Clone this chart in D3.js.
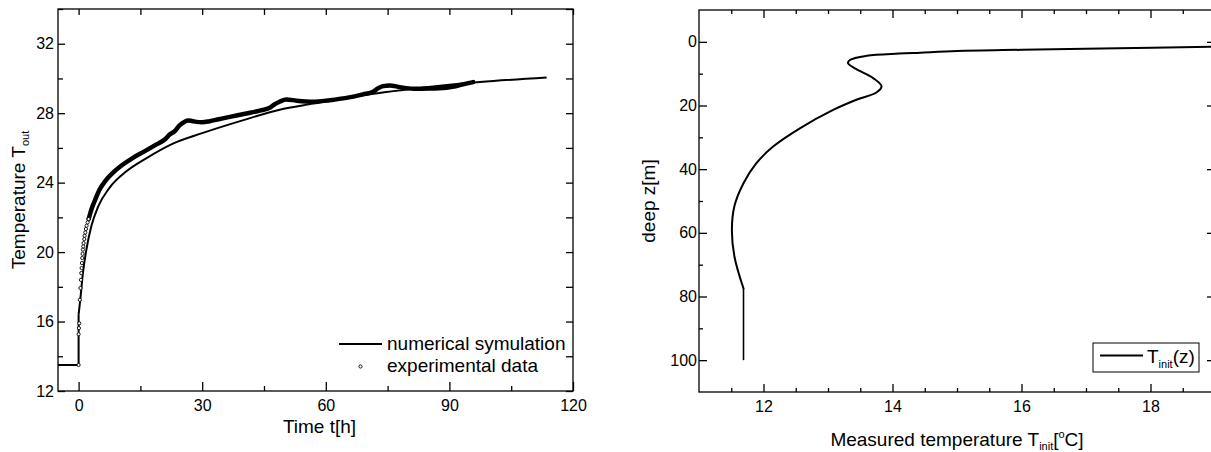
<!DOCTYPE html>
<html lang="en">
<head>
<meta charset="UTF-8">
<title>Temperature</title>
<style>
  body { margin: 0; background: #fff; }
  svg { display: block; font-family: "Liberation Sans", Arial, sans-serif; }
  .axis path { display: none; }
  .axis line { stroke: #000; stroke-width: 1.3; }
  .axis text { font-size: 16px; fill: #000; font-family: "Liberation Sans", Arial, sans-serif; }
  .title { font-size: 19px; fill: #000; }
</style>
</head>
<body>
<svg id="chart"></svg>
<script src="https://cdn.jsdelivr.net/npm/d3@7"></script>
<script>
// left panel: numerical simulation T_out(t)
var simTime = [-5, 0, 0, 0.4, 1.05, 1.86, 3.1, 4.7, 7.5, 11.6, 16.4, 22.9, 30, 40, 48.8, 57, 65, 81.2, 97.4, 113.6];
var simTemp = [13.5, 13.5, 16.4, 17.25, 18.8, 20.1, 21.5, 22.6, 23.7, 24.65, 25.4, 26.25, 26.85, 27.6, 28.2, 28.55, 28.89, 29.41, 29.79, 30.06];

// left panel: experimental data
var expTime = [0, 0, 0.08, 0.16, 0.3, 0.45, 0.57, 0.65, 0.73, 0.81, 0.89, 0.97, 1.05, 1.13, 1.21, 1.38, 1.46, 1.62, 1.78, 1.94, 2.19, 2.43, 2.67,
  3.1, 4, 5.1, 6.5, 8.3, 10.5, 13.2, 16, 18.9, 21, 22.1, 23.3, 24.5, 25.3, 26.5, 27.5, 28.6, 30, 31.8, 34, 37, 40.7, 44, 46.4, 47.5, 48.8,
  50.4, 52.9, 56.9, 61, 65, 69, 71.5, 72.8, 73.9, 75.5, 78, 81.2, 85, 89.3, 91.5, 93.3, 95.8];
var expTemp = [13.5, 15.27, 15.62, 15.9, 17.25, 17.93, 18.4, 18.79, 19.08, 19.37, 19.66, 19.9, 20.14, 20.33, 20.52, 20.75, 20.94, 21.13, 21.33, 21.52, 21.71, 21.9, 22.1,
  22.45, 23.0, 23.6, 24.1, 24.56, 25.0, 25.43, 25.8, 26.2, 26.5, 26.77, 26.96, 27.3, 27.44, 27.58, 27.55, 27.5, 27.48, 27.54, 27.65, 27.8, 27.98, 28.15, 28.31, 28.5, 28.66,
  28.79, 28.72, 28.66, 28.75, 28.88, 29.08, 29.24, 29.45, 29.56, 29.6, 29.5, 29.41, 29.42, 29.47, 29.55, 29.66, 29.79];

// right panel: initial temperature profile T_init(z)
var depth = [1.3, 1.5, 2.0, 2.5, 2.9, 3.4, 3.7, 4.4, 5.7, 6.7, 8.6, 11.4, 14.0, 15.9, 18.2, 21.4, 27.1, 32.9, 38.1, 44.4, 51.5, 59.1, 67.5, 77.5, 100];
var tInit = [19.6, 19, 17.5, 16, 15, 14.43, 14.1, 13.6, 13.34, 13.31, 13.44, 13.7, 13.83, 13.75, 13.44, 13.08, 12.57, 12.15, 11.89, 11.69, 11.55, 11.51, 11.55, 11.69, 11.69];

// tick values
var timeTicks = [0, 30, 60, 90, 120];
var timeMinor = [15, 45, 75, 105];
var tempTicks = [12, 16, 20, 24, 28, 32];
var tempMinor = [14, 18, 22, 26, 30, 34];
var tiTicks = [12, 14, 16, 18];
var tiMinor = [11.5, 12.5, 13, 13.5, 14.5, 15, 15.5, 16.5, 17, 17.5, 18.5];
var depthTicks = [0, 20, 40, 60, 80, 100];
var depthMinor = [10, 30, 50, 70, 90];

var W = 1211, H = 452;
var svg = d3.select("#chart").attr("width", W).attr("height", H);

function addAxis(g, gen, tx, ty) {
  g.append("g").attr("class", "axis")
    .attr("transform", "translate(" + tx + "," + ty + ")")
    .call(gen);
}

// ---------- left panel ----------
var A = {left: 58, right: 573, top: 9, bottom: 391};
var xA = d3.scaleLinear().domain([-5, 120]).range([A.left, A.right]);
var yA = d3.scaleLinear().domain([12, 34]).range([A.bottom, A.top]);
var gA = svg.append("g");

gA.append("clipPath").attr("id", "clipA").append("rect")
  .attr("x", A.left).attr("y", A.top).attr("width", A.right - A.left).attr("height", A.bottom - A.top);

// step at t=0 is straight, the heating curve after it is smooth
var simIdx = d3.range(simTime.length);
var simStep = d3.line()
  .x(function(i) { return xA(simTime[i]); })
  .y(function(i) { return yA(simTemp[i]); });
var simCurve = d3.line()
  .x(function(i) { return xA(simTime[i]); })
  .y(function(i) { return yA(simTemp[i]); })
  .curve(d3.curveMonotoneX);
gA.append("path").datum(simIdx.slice(0, 3))
  .attr("clip-path", "url(#clipA)")
  .attr("d", simStep)
  .attr("fill", "none").attr("stroke", "#000").attr("stroke-width", 2);
gA.append("path").datum(simIdx.slice(2))
  .attr("d", simCurve)
  .attr("fill", "none").attr("stroke", "#000").attr("stroke-width", 2);

// dense part of the measurements shows up as a solid band
var denseIdx = d3.range(expTime.length).filter(function(i) { return expTime[i] >= 2.4; });
var sparseIdx = d3.range(expTime.length).filter(function(i) { return expTime[i] < 2.6; });
var expLine = d3.line()
  .x(function(i) { return xA(expTime[i]); })
  .y(function(i) { return yA(expTemp[i]); })
  .curve(d3.curveMonotoneX);
gA.append("path").datum(denseIdx)
  .attr("d", expLine)
  .attr("fill", "none").attr("stroke", "#000").attr("stroke-width", 4.5)
  .attr("stroke-linejoin", "round").attr("stroke-linecap", "round");

gA.selectAll("circle.exp").data(sparseIdx).enter().append("circle")
  .attr("class", "exp")
  .attr("cx", function(i) { return xA(expTime[i]); })
  .attr("cy", function(i) { return yA(expTemp[i]); })
  .attr("r", 1.6)
  .attr("fill", "#fff").attr("stroke", "#000").attr("stroke-width", 0.9);

gA.append("rect")
  .attr("x", A.left).attr("y", A.top).attr("width", A.right - A.left).attr("height", A.bottom - A.top)
  .attr("fill", "none").attr("stroke", "#000").attr("stroke-width", 1.3);

addAxis(gA, d3.axisBottom(xA).tickValues(timeTicks).tickSize(-9).tickPadding(9).tickSizeOuter(0), 0, A.bottom);
addAxis(gA, d3.axisBottom(xA).tickValues(timeMinor).tickSize(-5).tickFormat(""), 0, A.bottom);
addAxis(gA, d3.axisTop(xA).tickValues(timeTicks.concat(timeMinor)).tickSize(-6).tickFormat(""), 0, A.top);
addAxis(gA, d3.axisLeft(yA).tickValues(tempTicks).tickSize(-7).tickPadding(4), A.left, 0);
addAxis(gA, d3.axisLeft(yA).tickValues(tempMinor).tickSize(-5).tickFormat(""), A.left, 0);
addAxis(gA, d3.axisRight(yA).tickValues(tempTicks.concat(tempMinor)).tickSize(-7).tickFormat(""), A.right, 0);

gA.append("text").attr("class", "title")
  .attr("x", (A.left + A.right) / 2 + 4).attr("y", 433)
  .attr("text-anchor", "middle").text("Time t[h]");

var ytA = gA.append("text").attr("class", "title")
  .attr("transform", "translate(25," + ((A.top + A.bottom) / 2) + ") rotate(-90)")
  .attr("text-anchor", "middle");
ytA.append("tspan").text("Temperature T");
ytA.append("tspan").attr("dy", 4).style("font-size", "11px").text("out");

// legend
var legA = gA.append("g");
legA.append("line").attr("x1", 339).attr("x2", 382).attr("y1", 344).attr("y2", 344)
  .attr("stroke", "#000").attr("stroke-width", 2);
legA.append("text").attr("class", "title").attr("x", 387).attr("y", 350).text("numerical symulation");
legA.append("circle").attr("cx", 360.5).attr("cy", 366.5).attr("r", 1.6)
  .attr("fill", "#fff").attr("stroke", "#000").attr("stroke-width", 0.9);
legA.append("text").attr("class", "title").attr("x", 387).attr("y", 372).text("experimental data");

// ---------- right panel ----------
var B = {left: 699, right: 1215, top: 10, bottom: 392};
var xB = d3.scaleLinear().domain([11, 19]).range([B.left, B.right]);
var yB = d3.scaleLinear().domain([-10, 110]).range([B.top, B.bottom]);
var gB = svg.append("g");

gB.append("clipPath").attr("id", "clipB").append("rect")
  .attr("x", B.left).attr("y", B.top).attr("width", B.right - B.left).attr("height", B.bottom - B.top);

// smooth profile down to ~78 m, then a constant below
var nTi = depth.length;
var tiSmooth = d3.line()
  .x(function(i) { return xB(tInit[i]); })
  .y(function(i) { return yB(depth[i]); })
  .curve(d3.curveCatmullRom.alpha(0.5));
var tiStraight = d3.line()
  .x(function(i) { return xB(tInit[i]); })
  .y(function(i) { return yB(depth[i]); });
gB.append("path").datum(d3.range(nTi - 1))
  .attr("clip-path", "url(#clipB)")
  .attr("d", tiSmooth)
  .attr("fill", "none").attr("stroke", "#000").attr("stroke-width", 2)
  .attr("stroke-linecap", "round");
gB.append("path").datum([nTi - 2, nTi - 1])
  .attr("d", tiStraight)
  .attr("fill", "none").attr("stroke", "#000").attr("stroke-width", 1.6);

gB.append("rect")
  .attr("x", B.left).attr("y", B.top).attr("width", B.right - B.left).attr("height", B.bottom - B.top)
  .attr("fill", "none").attr("stroke", "#000").attr("stroke-width", 1.3);

addAxis(gB, d3.axisBottom(xB).tickValues(tiTicks).tickSize(-8).tickPadding(9), 0, B.bottom);
addAxis(gB, d3.axisBottom(xB).tickValues(tiMinor).tickSize(-4).tickFormat(""), 0, B.bottom);
addAxis(gB, d3.axisTop(xB).tickValues(tiTicks).tickSize(-8).tickFormat(""), 0, B.top);
addAxis(gB, d3.axisTop(xB).tickValues(tiMinor).tickSize(-4).tickFormat(""), 0, B.top);
addAxis(gB, d3.axisLeft(yB).tickValues(depthTicks).tickSize(-8).tickPadding(2), B.left, 0);
addAxis(gB, d3.axisLeft(yB).tickValues(depthMinor).tickSize(-4).tickFormat(""), B.left, 0);
addAxis(gB, d3.axisRight(yB).tickValues(depthTicks).tickSize(-8).tickFormat(""), B.right, 0);
addAxis(gB, d3.axisRight(yB).tickValues(depthMinor).tickSize(-4).tickFormat(""), B.right, 0);

var xtB = gB.append("text").attr("class", "title")
  .attr("x", (B.left + B.right) / 2).attr("y", 446)
  .attr("text-anchor", "middle");
xtB.append("tspan").text("Measured temperature T");
xtB.append("tspan").attr("dy", 4).style("font-size", "11px").text("init");
xtB.append("tspan").attr("dy", -4).text("[");
xtB.append("tspan").attr("dy", -8).style("font-size", "11px").text("o");
xtB.append("tspan").attr("dy", 8).text("C]");

gB.append("text").attr("class", "title")
  .attr("transform", "translate(655," + ((B.top + B.bottom) / 2) + ") rotate(-90)")
  .attr("text-anchor", "middle").text("deep z[m]");

// legend box
var legB = gB.append("g");
legB.append("rect").attr("x", 1093).attr("y", 343).attr("width", 106).attr("height", 29)
  .attr("fill", "#fff").attr("stroke", "#000").attr("stroke-width", 1);
legB.append("line").attr("x1", 1100).attr("x2", 1143).attr("y1", 355.5).attr("y2", 355.5)
  .attr("stroke", "#000").attr("stroke-width", 2);
var lt = legB.append("text").attr("class", "title").attr("x", 1147).attr("y", 363);
lt.append("tspan").text("T");
lt.append("tspan").attr("dy", 5).style("font-size", "11px").text("init");
lt.append("tspan").attr("dy", -5).text("(z)");
</script>
</body>
</html>
